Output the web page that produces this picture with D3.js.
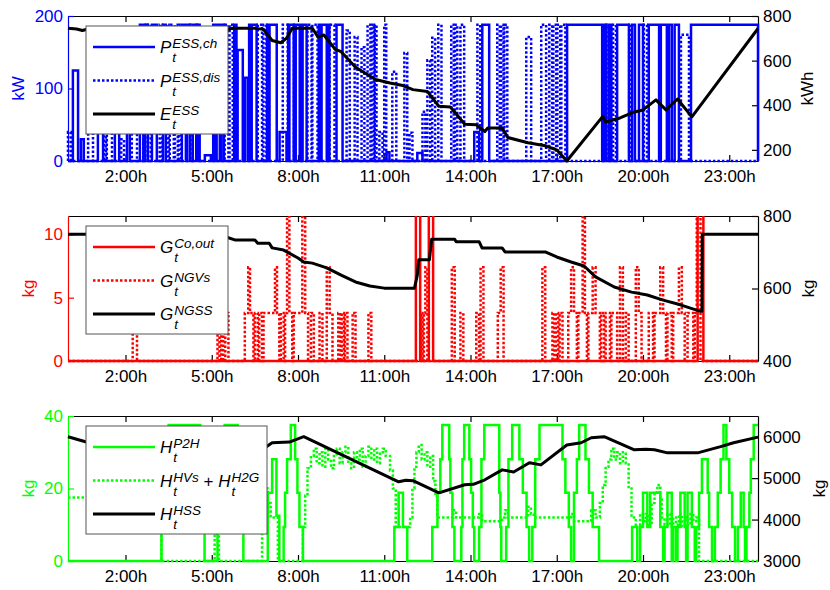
<!DOCTYPE html>
<html>
<head>
<meta charset="utf-8">
<script src="https://cdn.jsdelivr.net/npm/d3@7"></script>
<style>
  body { margin: 0; background: #fff; }
  text { font-family: "Liberation Sans", Arial, Helvetica, sans-serif; }
</style>
</head>
<body>
<svg id="chart" width="830" height="590"></svg>
<script>
// ---- time axis ----
const hourTicks = [2, 5, 8, 11, 14, 17, 20, 23];
const hourLabels = ["2:00h", "5:00h", "8:00h", "11:00h", "14:00h", "17:00h", "20:00h", "23:00h"];

// ---- panel 1: ESS ----
const essPowerTicks = [0, 100, 200];
const essEnergyTicks = [200, 400, 600, 800];
// pulses: [start h, end h, kW]
const essCharge = [
  [0.17, 0.35, 125], [0.45, 0.55, 30], [1.04, 1.22, 60], [1.63, 1.78, 55], [2.05, 2.15, 45],
  [2.5, 2.62, 188], [2.68, 2.78, 188], [2.92, 3.09, 188], [3.3, 3.4, 188], [3.96, 4.1, 188],
  [4.14, 4.24, 188], [4.34, 4.46, 188], [4.5, 4.58, 188], [4.76, 4.97, 8], [5.05, 5.12, 188],
  [5.17, 5.28, 188], [5.33, 5.42, 188], [5.78, 5.86, 188], [5.9, 6.08, 153], [6.15, 6.25, 115],
  [6.3, 6.35, 188], [6.39, 6.56, 188], [6.92, 6.97, 188], [7.01, 7.26, 188], [7.36, 7.6, 40],
  [7.66, 7.69, 188], [7.7, 7.85, 188], [7.92, 8.06, 188], [8.1, 8.14, 188], [8.16, 8.3, 188],
  [8.72, 8.78, 188], [8.82, 9.0, 188], [9.05, 9.09, 188], [9.34, 9.55, 188], [11.08, 11.18, 12],
  [12.15, 12.33, 11], [14.13, 14.3, 40], [14.41, 14.65, 188], [17.36, 18.58, 188], [18.65, 18.72, 188],
  [18.82, 18.9, 188], [19.1, 19.51, 188], [19.62, 19.72, 188], [19.86, 20.0, 188], [20.2, 20.56, 188],
  [20.62, 20.83, 188], [20.9, 21.0, 188], [21.1, 21.25, 188], [21.67, 24, 188]
];
const essDischarge = [
  [0.0, 0.1, 40], [0.7, 0.87, 40], [1.25, 1.32, 35], [1.35, 1.53, 45], [1.85, 1.95, 30],
  [2.22, 2.4, 45], [2.62, 2.68, 188], [2.78, 2.88, 188], [3.19, 3.28, 188], [3.42, 3.5, 188],
  [3.54, 3.68, 188], [3.72, 3.82, 188], [3.85, 3.94, 188], [4.25, 4.33, 188], [4.47, 4.5, 188],
  [5.45, 5.58, 188], [5.62, 5.73, 188], [6.6, 6.75, 188], [6.8, 6.9, 188], [7.47, 7.64, 188],
  [7.86, 7.91, 188], [8.33, 8.47, 188], [8.5, 8.68, 188], [9.1, 9.27, 188], [9.69, 9.8, 180],
  [9.97, 10.07, 171], [10.21, 10.31, 157], [10.42, 10.52, 188], [10.56, 10.64, 188], [10.67, 10.73, 188],
  [10.83, 10.94, 40], [11.0, 11.07, 188], [11.28, 11.42, 123], [11.7, 11.8, 149], [11.88, 11.98, 39],
  [12.33, 12.43, 68], [12.5, 12.6, 139], [12.67, 12.77, 170], [12.88, 12.99, 188], [13.33, 13.42, 188],
  [13.46, 13.54, 188], [13.65, 13.78, 188], [14.24, 14.34, 188], [14.93, 15.02, 188], [15.07, 15.15, 188],
  [15.18, 15.28, 188], [15.94, 16.11, 171], [16.46, 16.63, 188], [16.74, 16.84, 188], [16.88, 16.98, 188],
  [17.02, 17.12, 188], [17.16, 17.3, 188], [18.72, 18.8, 188], [18.96, 19.06, 188], [19.52, 19.6, 188],
  [20.03, 20.14, 188], [21.32, 21.6, 174]
];
// stored energy [h, kWh]
const essEnergy = [
  [0, 745], [0.3, 742], [0.5, 735], [0.8, 745], [5.0, 745], [5.5, 737], [5.7, 745], [6.5, 745],
  [6.8, 740], [7.1, 690], [7.4, 680], [7.6, 700], [7.8, 745], [8.5, 745], [8.7, 705], [8.9, 715],
  [9.3, 650], [9.5, 640], [10.0, 570], [10.7, 515], [11.2, 500], [11.6, 490], [12.0, 470], [12.5, 462],
  [12.9, 395], [13.3, 392], [13.8, 315], [14.2, 312], [14.5, 282], [14.6, 298], [15.1, 298], [15.3, 255],
  [16.0, 232], [16.6, 218], [17.0, 200], [17.35, 150], [18.6, 350], [18.7, 325], [19.2, 343], [19.7, 370],
  [20.0, 379], [20.45, 424], [20.8, 379], [21.2, 428], [21.7, 348], [24, 744]
];

// ---- panel 2: natural gas ----
const gasMassTicks = [0, 5, 10];
const gasStoreTicks = [400, 600, 800];
const gasCoOut = [[12.1, 12.25, 13], [12.55, 12.7, 13], [21.9, 22.1, 13]];
// NGV refuelling steps [h, kg]
const gasNGV = [
  [0, 0], [2.25, 3.8], [2.4, 0], [5.2, 3.8], [5.27, 0], [5.33, 3.8], [5.4, 0], [5.47, 3.8], [5.58, 0],
  [6.15, 3.8], [6.27, 7.4], [6.33, 3.8], [6.45, 0], [6.5, 3.8], [6.6, 0], [6.65, 3.8], [6.75, 0],
  [6.8, 3.8], [7.2, 7.4], [7.27, 3.8], [7.35, 0], [7.4, 3.8], [7.5, 0], [7.55, 3.8], [7.62, 13],
  [7.7, 3.8], [7.8, 0], [7.85, 3.8], [8.15, 13], [8.25, 3.8], [8.35, 0], [8.45, 3.8], [8.55, 0],
  [8.75, 3.8], [8.85, 0], [9.0, 7.4], [9.1, 3.8], [9.2, 0], [9.4, 3.8], [9.47, 0], [9.52, 3.8],
  [9.6, 0], [9.63, 3.8], [9.72, 0], [9.9, 3.8], [10.0, 0], [10.45, 3.8], [10.55, 0],
  [12.28, 3.8], [12.33, 0], [12.38, 3.8], [12.43, 7.4], [12.5, 0],
  [13.35, 7.4], [13.45, 0], [13.65, 3.8], [13.75, 0], [14.2, 3.8], [14.3, 0], [14.35, 7.4], [14.45, 0],
  [14.95, 3.8], [15.05, 7.4], [15.15, 0], [16.5, 7.4], [16.6, 0], [16.85, 3.8], [16.92, 0], [16.97, 3.8],
  [17.05, 0], [17.1, 3.8], [17.2, 0], [17.4, 3.8], [17.5, 7.4], [17.6, 3.8], [17.7, 0], [17.75, 3.8],
  [17.9, 13], [17.98, 3.8], [18.05, 0], [18.1, 3.8], [18.25, 7.4], [18.35, 3.8], [18.5, 0], [18.55, 3.8],
  [18.65, 0], [18.7, 3.8], [18.85, 0], [18.9, 3.8], [19.1, 0], [19.2, 7.4], [19.3, 0], [19.4, 3.8],
  [19.5, 0], [19.75, 7.4], [19.85, 3.8], [19.95, 0], [20.2, 3.8], [20.35, 0], [20.4, 3.8], [20.6, 7.4],
  [20.7, 3.8], [20.8, 0], [20.85, 3.8], [21.0, 0], [21.05, 3.8], [21.25, 7.4], [21.35, 3.8], [21.45, 0],
  [21.55, 3.8], [21.75, 0], [21.8, 3.8], [21.87, 13], [22.0, 0], [24, 0]
];
const gasStore = [
  [0, 750], [5.4, 750], [5.5, 742], [5.8, 734], [6.5, 734], [6.6, 725], [7.0, 725], [7.1, 712],
  [7.5, 706], [8.0, 684], [8.2, 673], [8.5, 670], [9.0, 657], [9.5, 637], [10.0, 618], [10.5, 607],
  [11.0, 601], [12.05, 601], [12.15, 637], [12.2, 679], [12.57, 679], [12.65, 736], [13.45, 736],
  [13.5, 729], [14.3, 729], [14.4, 712], [15.1, 712], [15.2, 701], [16.6, 701], [17.0, 687],
  [17.5, 673], [17.95, 662], [18.35, 632], [19.0, 604], [19.6, 590], [20.15, 582], [20.7, 568],
  [21.3, 555], [22.0, 537], [22.05, 537], [22.06, 750], [24, 750]
];

// ---- panel 3: hydrogen ----
const h2MassTicks = [0, 20, 40];
const h2StoreTicks = [3000, 4000, 5000, 6000];
// power-to-hydrogen steps [h, kg]
const h2P2H = [
  [0, 0], [3.25, 9.4], [3.33, 18.8], [3.42, 28.1], [3.5, 37.5], [4.6, 28.1], [4.65, 18.8], [4.7, 9.4],
  [4.75, 0], [5.2, 9.4], [5.28, 18.8], [5.36, 28.1], [5.45, 37.5], [5.9, 28.1], [5.97, 18.8], [6.03, 9.4],
  [6.1, 0], [6.95, 18.8], [7.1, 28.1], [7.25, 12.5], [7.35, 0], [7.5, 9.4], [7.55, 18.8], [7.62, 28.1],
  [7.75, 37.5], [7.9, 28.1], [7.98, 18.8], [8.05, 9.4], [8.17, 0], [11.35, 9.4], [11.5, 18.8],
  [11.65, 9.4], [11.8, 0], [12.67, 9.4], [12.85, 18.8], [12.95, 28.1], [13.02, 37.5], [13.26, 28.1],
  [13.3, 18.8], [13.37, 9.4], [13.44, 0], [13.68, 9.4], [13.72, 28.1], [13.78, 37.5], [13.96, 28.1],
  [14.02, 18.8], [14.08, 9.4], [14.13, 0], [14.3, 9.4], [14.38, 28.1], [14.48, 37.5], [15.0, 18.8],
  [15.04, 9.4], [15.07, 0], [15.24, 9.4], [15.32, 28.1], [15.45, 37.5], [15.7, 28.1], [15.82, 18.8],
  [15.95, 9.4], [16.04, 0], [16.15, 9.4], [16.25, 28.1], [16.4, 37.5], [17.2, 28.1], [17.3, 18.8],
  [17.42, 9.4], [17.5, 0], [17.6, 18.8], [17.7, 28.1], [17.78, 37.5], [18.0, 28.1], [18.12, 18.8],
  [18.25, 9.4], [18.47, 0], [19.62, 9.4], [19.8, 0], [19.9, 9.4], [20.0, 18.8], [20.15, 9.4],
  [20.25, 18.8], [20.6, 9.4], [20.7, 0], [20.75, 9.4], [20.85, 18.8], [21.0, 0], [21.05, 9.4],
  [21.15, 0], [21.2, 9.4], [21.3, 18.8], [21.45, 9.4], [21.5, 0], [21.55, 18.8], [21.7, 9.4],
  [21.8, 0], [21.85, 9.4], [21.95, 18.8], [22.05, 28.1], [22.25, 18.8], [22.3, 9.4], [22.4, 0],
  [22.5, 9.4], [22.6, 18.8], [22.7, 28.1], [22.8, 37.5], [22.9, 28.1], [23.0, 18.8], [23.1, 9.4],
  [23.2, 0], [23.3, 9.4], [23.4, 18.8], [23.5, 9.4], [23.55, 0], [23.6, 9.4], [23.7, 18.8],
  [23.75, 28.1], [23.85, 37.5], [24, 37.5]
];
// HV refuelling + hydrogen-to-gas steps [h, kg]
const h2Demand = [
  [0, 17.5], [3.25, 0], [5.1, 7.5], [5.25, 0], [6.75, 23], [6.85, 20], [6.95, 16], [7.05, 12],
  [7.3, 0], [8.17, 9.4], [8.25, 18], [8.33, 25.6], [8.45, 29], [8.55, 31], [8.65, 27], [8.75, 30],
  [8.85, 26], [8.95, 31], [9.05, 28], [9.15, 25.6], [9.25, 29], [9.35, 31], [9.45, 27], [9.55, 30],
  [9.65, 31.5], [9.75, 27], [9.85, 25.6], [9.95, 30], [10.05, 28], [10.15, 31], [10.25, 26],
  [10.35, 29], [10.45, 31.5], [10.55, 28], [10.65, 31], [10.75, 27], [10.85, 30], [10.95, 31],
  [11.05, 29], [11.2, 25], [11.3, 20], [11.4, 9.4], [11.9, 12], [11.98, 20], [12.05, 26], [12.12, 30],
  [12.2, 32], [12.3, 28], [12.4, 30], [12.5, 26], [12.6, 29], [12.7, 22], [12.78, 17.7], [12.85, 12],
  [13.4, 14], [13.5, 12], [14.3, 13], [14.4, 11], [15.1, 12], [15.2, 14], [15.3, 12], [16.0, 15],
  [16.1, 13], [16.2, 12], [17.5, 13], [17.6, 11], [18.2, 14], [18.35, 12], [18.5, 16], [18.6, 21],
  [18.7, 26], [18.8, 28], [18.9, 31], [19.0, 28], [19.1, 30], [19.2, 27], [19.3, 30], [19.4, 27],
  [19.5, 20], [19.6, 12], [19.75, 10], [19.9, 13], [20.0, 11], [20.1, 13], [20.2, 10], [20.3, 16],
  [20.4, 19], [20.5, 21], [20.6, 17], [20.65, 12], [20.75, 10], [20.85, 13], [20.95, 9.5], [21.05, 12],
  [21.15, 10], [21.25, 13], [21.35, 9.5], [21.45, 12], [21.55, 10], [21.65, 13], [21.75, 11],
  [21.85, 12], [21.95, 0], [24, 0]
];
const h2Store = [
  [0, 6000], [0.7, 5860], [6.9, 5760], [7.1, 5855], [7.7, 5870], [8.2, 6000], [11.5, 4911], [11.75, 4950],
  [12.0, 4940], [12.9, 4645], [13.8, 4840], [14.1, 4850], [14.5, 4960], [15.1, 5200], [15.5, 5150],
  [16.05, 5370], [16.45, 5320], [17.35, 5800], [17.85, 5855], [18.2, 5975], [18.65, 6000], [19.7, 5685],
  [20.1, 5700], [20.4, 5685], [20.85, 5610], [21.9, 5610], [22.7, 5760], [23.15, 5855], [24, 5990]
];

// ---- layout ----
const svg = d3.select("#chart");
const plotLeft = 68, plotRight = 758, panelH = 145;
const x = d3.scaleLinear().domain([0, 24]).range([plotLeft, plotRight]);

const BLUE = "#0000ff", RED = "#ff0000", GREEN = "#00ff00";
const FONT = "'Liberation Sans', Arial, sans-serif";

function pulsesToSteps(pulses) {
  const pts = [[0, 0]];
  pulses.forEach(([s, e, v]) => { pts.push([s, v]); pts.push([e, 0]); });
  pts.push([24, 0]);
  return pts;
}

const panels = [
  {
    top: 16, color: BLUE, leftDomain: [0, 200], leftTicks: essPowerTicks, rightDomain: [150, 800],
    rightTicks: essEnergyTicks, leftLabel: "kW", rightLabel: "kWh", leftLabelX: 24, rightLabelX: 813,
    dotted: pulsesToSteps(essDischarge), solid: pulsesToSteps(essCharge), store: essEnergy,
    legendW: 142,
    legend: [
      [{ main: "P", sup: "ESS,ch" }], [{ main: "P", sup: "ESS,dis" }], [{ main: "E", sup: "ESS" }]
    ]
  },
  {
    top: 216, color: RED, leftDomain: [0, 11.45], leftTicks: gasMassTicks, rightDomain: [400, 800],
    rightTicks: gasStoreTicks, leftLabel: "kg", rightLabel: "kg", leftLabelX: 34, rightLabelX: 814,
    dotted: gasNGV, solid: pulsesToSteps(gasCoOut), store: gasStore,
    legendW: 142,
    legend: [
      [{ main: "G", sup: "Co,out" }], [{ main: "G", sup: "NGVs" }], [{ main: "G", sup: "NGSS" }]
    ]
  },
  {
    top: 416, color: GREEN, leftDomain: [0, 40], leftTicks: h2MassTicks, rightDomain: [3000, 6500],
    rightTicks: h2StoreTicks, leftLabel: "kg", rightLabel: "kg", leftLabelX: 34, rightLabelX: 825,
    dotted: h2Demand, solid: h2P2H, store: h2Store,
    legendW: 181,
    legend: [
      [{ main: "H", sup: "P2H" }], [{ main: "H", sup: "HVs" }, { op: " + " }, { main: "H", sup: "H2G" }],
      [{ main: "H", sup: "HSS" }]
    ]
  }
];

function texLabel(g, x0, rowY, tokens) {
  let cx = x0;
  tokens.forEach(tok => {
    if (tok.op) {
      const t = g.append("text").attr("x", cx).attr("y", rowY + 6).attr("font-size", 17)
        .style("white-space", "pre").text(tok.op);
      cx += t.node().getComputedTextLength();
      return;
    }
    const m = g.append("text").attr("x", cx).attr("y", rowY + 6).attr("font-size", 17)
      .attr("font-style", "italic").text(tok.main);
    const sx = cx + m.node().getComputedTextLength() + 1;
    const sup = g.append("text").attr("x", sx).attr("y", rowY + 1).attr("font-size", 13.5)
      .attr("font-style", "italic").text(tok.sup);
    g.append("text").attr("x", sx).attr("y", rowY + 15).attr("font-size", 13.5)
      .attr("font-style", "italic").text("t");
    cx = sx + sup.node().getComputedTextLength();
  });
}

panels.forEach((p, i) => {
  const top = p.top, bottom = top + panelH;
  const yL = d3.scaleLinear().domain(p.leftDomain).range([bottom, top]);
  const yR = d3.scaleLinear().domain(p.rightDomain).range([bottom, top]);
  const g = svg.append("g");

  // box lines and axes (drawn under the data, as in the original)
  const bottomAxis = g.append("g").attr("transform", `translate(0,${bottom})`)
    .call(d3.axisBottom(x).tickValues(hourTicks).tickFormat((d, k) => hourLabels[k])
      .tickSizeInner(-6).tickSizeOuter(0).tickPadding(9));
  const topAxis = g.append("g").attr("transform", `translate(0,${top})`)
    .call(d3.axisTop(x).tickValues(hourTicks).tickFormat("").tickSizeInner(-6).tickSizeOuter(0));
  const rightAxis = g.append("g").attr("transform", `translate(${plotRight},0)`)
    .call(d3.axisRight(yR).tickValues(p.rightTicks).tickFormat(d3.format("d"))
      .tickSizeInner(-6).tickSizeOuter(0).tickPadding(5));
  const leftAxis = g.append("g").attr("transform", `translate(${plotLeft},0)`)
    .call(d3.axisLeft(yL).tickValues(p.leftTicks).tickFormat(d3.format("d"))
      .tickSizeInner(-6).tickSizeOuter(0).tickPadding(5));

  [bottomAxis, topAxis, rightAxis].forEach(a => {
    a.selectAll("path,line").attr("stroke", "#000").attr("stroke-width", 1.2);
    a.selectAll("text").attr("fill", "#000").attr("font-size", 17).attr("font-family", FONT);
  });
  leftAxis.selectAll("path,line").attr("stroke", p.color).attr("stroke-width", 1.2);
  leftAxis.selectAll("text").attr("fill", p.color).attr("font-size", 17).attr("font-family", FONT);

  g.append("text").attr("transform", `translate(${p.leftLabelX},${top + panelH / 2}) rotate(-90)`)
    .attr("text-anchor", "middle").attr("font-size", 17).attr("fill", p.color).text(p.leftLabel);
  g.append("text").attr("transform", `translate(${p.rightLabelX},${top + panelH / 2}) rotate(-90)`)
    .attr("text-anchor", "middle").attr("font-size", 17).attr("fill", "#000").text(p.rightLabel);

  // data
  const clipId = "clip" + i;
  svg.append("clipPath").attr("id", clipId).append("rect")
    .attr("x", plotLeft - 2).attr("y", top).attr("width", plotRight - plotLeft + 4).attr("height", panelH + 2);
  const dg = g.append("g").attr("clip-path", `url(#${clipId})`);

  const stepLine = d3.line().x(d => x(d[0])).y(d => yL(d[1])).curve(d3.curveStepAfter);
  const storeLine = d3.line().x(d => x(d[0])).y(d => yR(d[1]));

  dg.append("path").datum(p.dotted).attr("d", stepLine).attr("fill", "none")
    .attr("stroke", p.color).attr("stroke-width", 2.5).attr("stroke-dasharray", "2.5,2");
  dg.append("path").datum(p.solid).attr("d", stepLine).attr("fill", "none")
    .attr("stroke", p.color).attr("stroke-width", 2.5);
  dg.append("path").datum(p.store).attr("d", storeLine).attr("fill", "none")
    .attr("stroke", "#000").attr("stroke-width", 3).attr("stroke-linejoin", "round");

  // legend
  const lg = g.append("g");
  const lx = 86, ly = top + 10;
  lg.append("rect").attr("x", lx).attr("y", ly).attr("width", p.legendW).attr("height", 108)
    .attr("fill", "#fff").attr("stroke", "#555").attr("stroke-width", 1);
  const styles = [
    { c: p.color, w: 2.5, dash: null },
    { c: p.color, w: 2.5, dash: "2.5,2" },
    { c: "#000", w: 3, dash: null }
  ];
  p.legend.forEach((tokens, k) => {
    const ry = ly + 21 + k * 33.5;
    lg.append("line").attr("x1", 93).attr("x2", 155).attr("y1", ry).attr("y2", ry)
      .attr("stroke", styles[k].c).attr("stroke-width", styles[k].w)
      .attr("stroke-dasharray", styles[k].dash);
    texLabel(lg, 160, ry, tokens);
  });
});
</script>
</body>
</html>
